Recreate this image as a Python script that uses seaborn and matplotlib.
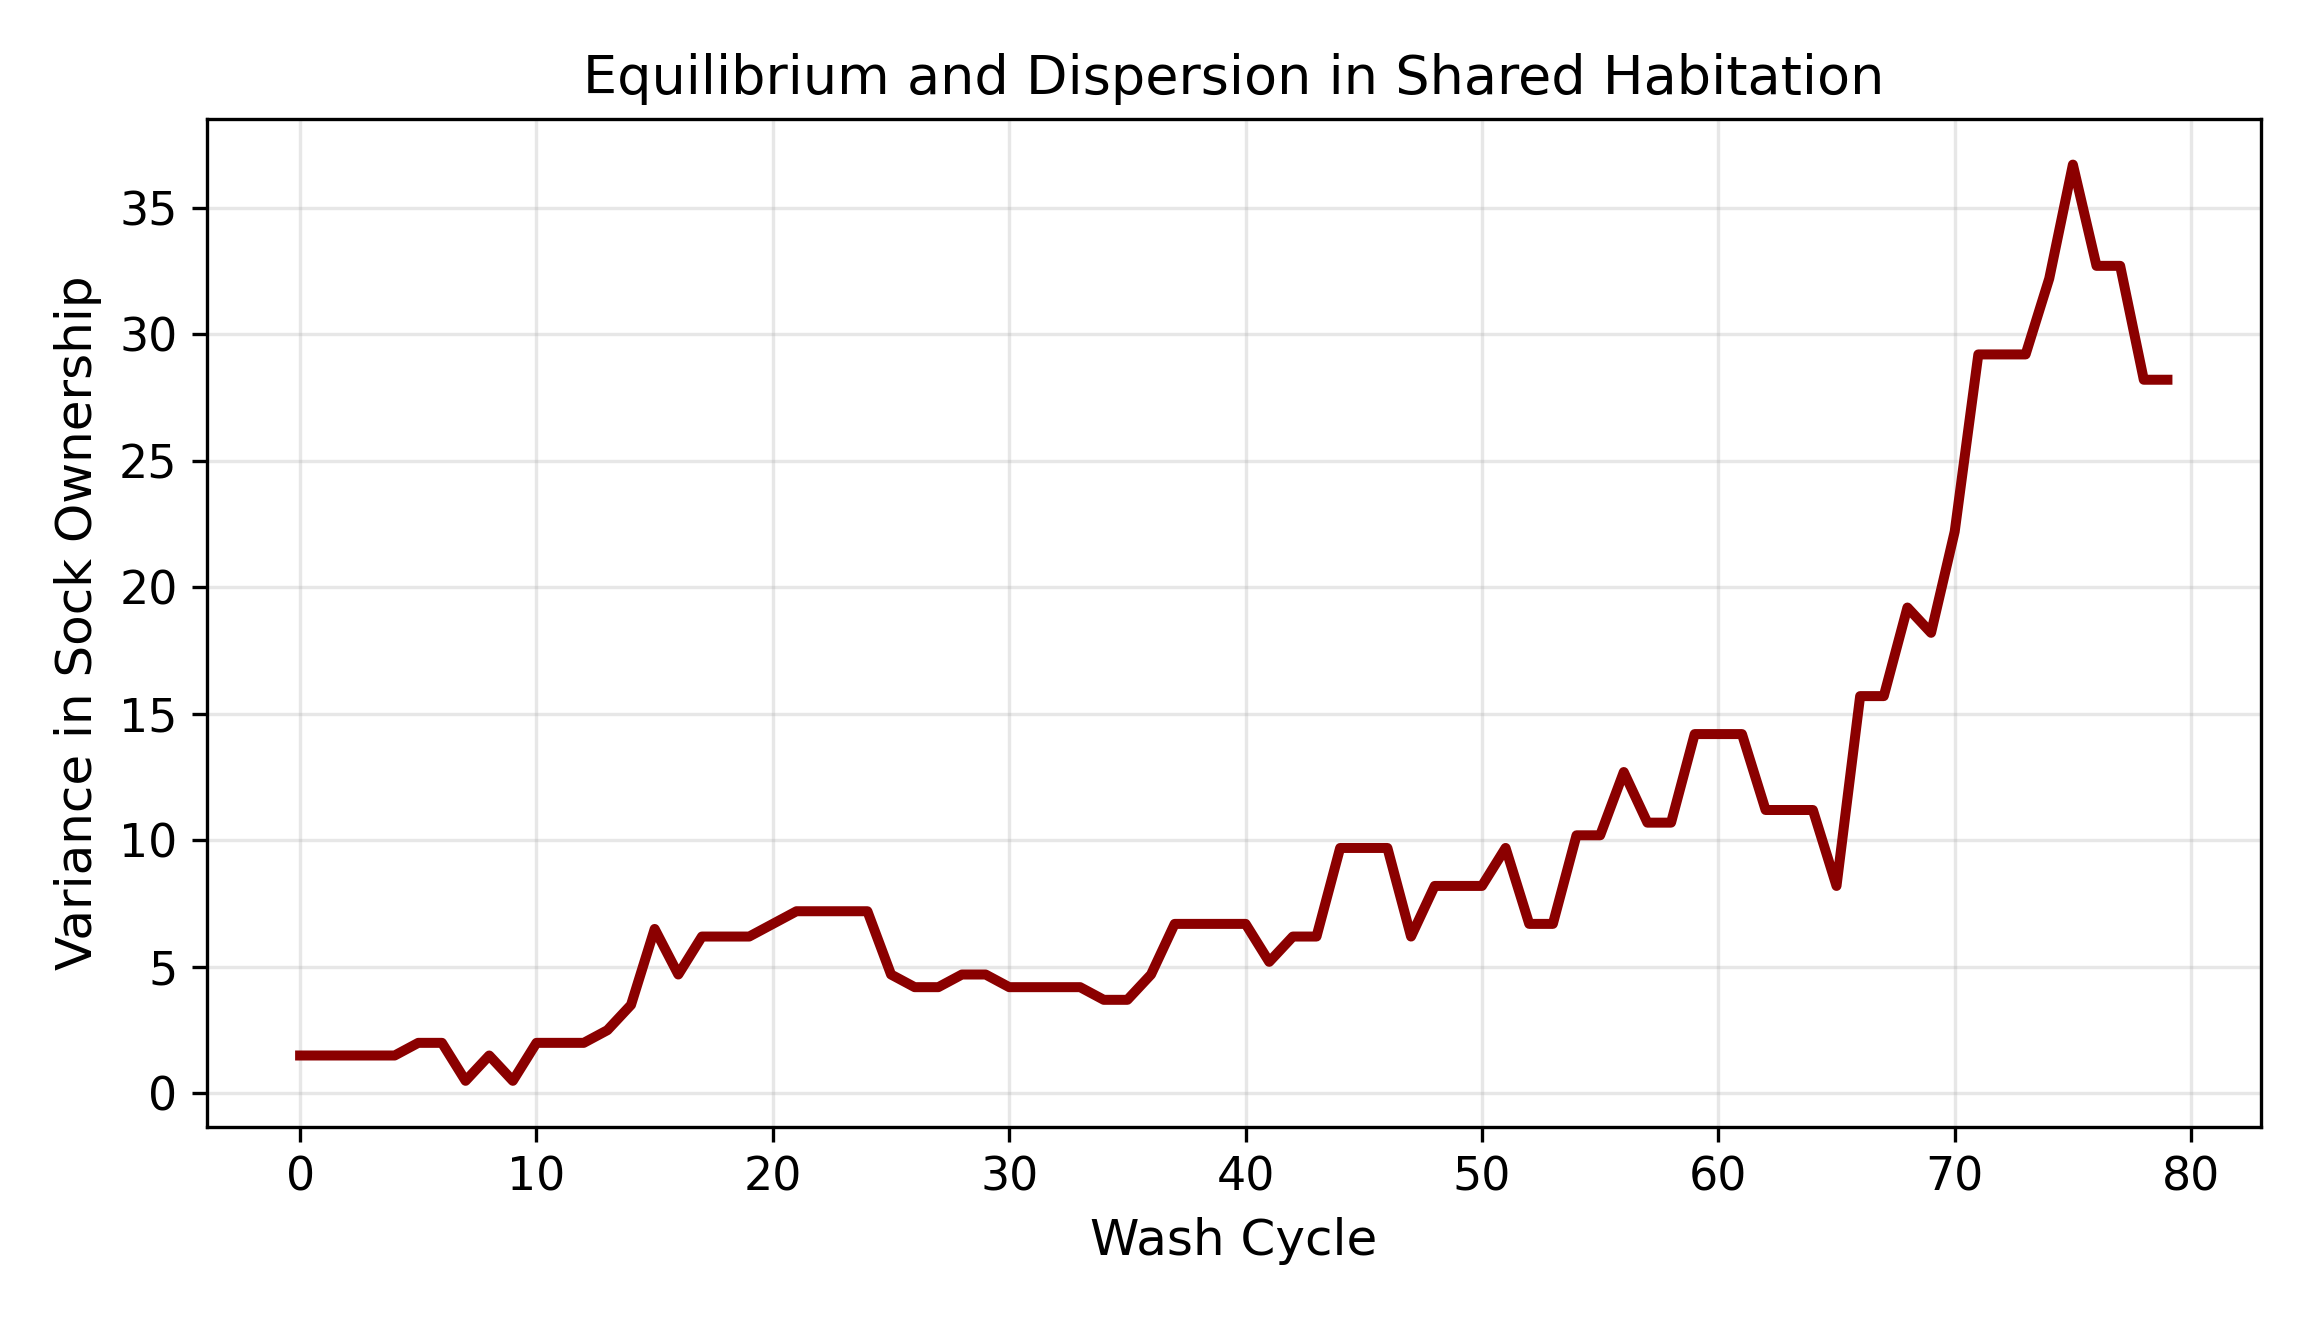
import seaborn as sns
import pandas as pd
from matplotlib import pyplot as plt

# wash cycle index and variance
wash_cycle = list(range(80))
variance = [1.5, 1.5, 1.5, 1.5, 1.5, 2.0, 2.0, 0.5, 1.5, 0.5,
            2.0, 2.0, 2.0, 2.5, 3.5, 6.5, 4.7, 6.2, 6.2, 6.2,
            6.7, 7.2, 7.2, 7.2, 7.2, 4.7, 4.2, 4.2, 4.7, 4.7,
            4.2, 4.2, 4.2, 4.2, 3.7, 3.7, 4.7, 6.7, 6.7, 6.7,
            6.7, 5.2, 6.2, 6.2, 9.7, 9.7, 9.7, 6.2, 8.2, 8.2,
            8.2, 9.7, 6.7, 6.7, 10.2, 10.2, 12.7, 10.7, 10.7, 14.2,
            14.2, 14.2, 11.2, 11.2, 11.2, 8.2, 15.7, 15.7, 19.2, 18.2,
            22.2, 29.2, 29.2, 29.2, 32.2, 36.7, 32.7, 32.7, 28.2, 28.2]

title = 'Equilibrium and Dispersion in Shared Habitation'
x_label = 'Wash Cycle'
y_label = 'Variance in Sock Ownership'

df = pd.DataFrame({'cycle': wash_cycle, 'variance': variance})

#-------------------------Plot------------------------------------------------
fig, ax = plt.subplots(figsize=(7.7, 4.4), dpi=300)

sns.lineplot(data=df, x='cycle', y='variance', color='darkred', linewidth=2.4, ax=ax)

ax.set_title(title, fontsize=13)
ax.set_xlabel(x_label, fontsize=12)
ax.set_ylabel(y_label, fontsize=12)
ax.tick_params(labelsize=11)
ax.grid(True, alpha=0.3)

fig.subplots_adjust(left=0.0895, right=0.9787, top=0.910, bottom=0.1465)
fig.savefig('out.png', dpi=300)
